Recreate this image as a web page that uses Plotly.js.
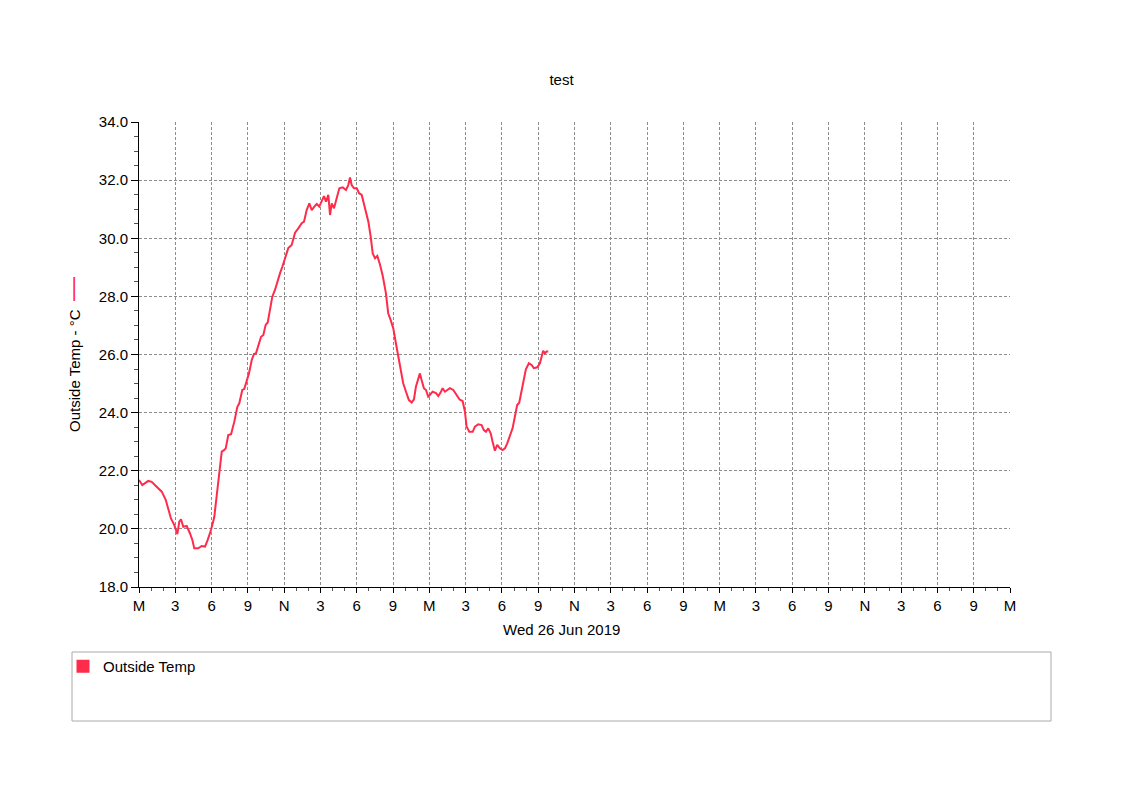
<!DOCTYPE html>
<html>
<head>
<meta charset="utf-8">
<script src="https://cdn.plot.ly/plotly-3.0.1.min.js"></script>
<style>
  html, body { margin: 0; padding: 0; background: #ffffff; }
  #chart { width: 1123px; height: 794px; }
</style>
</head>
<body>
<div id="chart"></div>
<script>
// Hours since midnight Wed 26 Jun 2019
const hours = [
  0.00, 0.27, 0.77, 1.05, 1.46, 1.88, 2.21, 2.42, 2.64, 2.92,
  3.17, 3.33, 3.47, 3.66, 3.94, 4.21, 4.41, 4.57, 4.90, 5.18,
  5.46, 5.68, 5.95, 6.22, 6.42, 6.60, 6.84, 7.03, 7.17, 7.38,
  7.61, 7.88, 8.13, 8.29, 8.54, 8.70, 8.90, 9.09, 9.32, 9.51,
  9.67, 9.86, 10.09, 10.28, 10.47, 10.64, 10.83, 11.02, 11.24, 11.43,
  11.66, 11.85, 12.07, 12.34, 12.62, 12.90, 13.17, 13.45, 13.64, 13.86,
  14.08, 14.28, 14.49, 14.69, 14.90, 15.10, 15.29, 15.46, 15.65, 15.79,
  15.93, 16.12, 16.34, 16.56, 16.84, 17.11, 17.30, 17.44, 17.58, 17.77,
  18.00, 18.19, 18.41, 18.68, 18.96, 19.15, 19.32, 19.51, 19.70, 19.92,
  20.15, 20.41, 20.60, 20.80, 21.02, 21.24, 21.43, 21.63, 21.84, 22.07,
  22.31, 22.54, 22.73, 22.89, 23.08, 23.22, 23.36, 23.55, 23.72, 23.91,
  24.05, 24.27, 24.55, 24.74, 24.93, 25.10, 25.29, 25.48, 25.70, 25.98,
  26.26, 26.50, 26.75, 26.94, 27.08, 27.30, 27.58, 27.77, 28.04, 28.32,
  28.51, 28.68, 28.87, 29.07, 29.23, 29.42, 29.61, 29.83, 30.06, 30.25,
  30.44, 30.66, 30.88, 31.07, 31.26, 31.43, 31.63, 31.82, 31.98, 32.23,
  32.45, 32.64, 32.92, 33.14, 33.28, 33.41, 33.55, 33.69, 33.83
];

// Outside temperature, degrees C
const outsideTemp = [
  21.68, 21.51, 21.65, 21.62, 21.45, 21.28, 21.00, 20.65, 20.36, 20.13,
  19.82, 20.25, 20.33, 20.07, 20.10, 19.85, 19.62, 19.33, 19.33, 19.41,
  19.39, 19.62, 19.96, 20.40, 21.10, 21.90, 22.66, 22.71, 22.77, 23.23,
  23.26, 23.69, 24.20, 24.32, 24.78, 24.81, 25.12, 25.35, 25.81, 26.02,
  26.04, 26.33, 26.61, 26.67, 27.02, 27.10, 27.53, 27.99, 28.22, 28.51,
  28.80, 29.02, 29.31, 29.66, 29.77, 30.19, 30.34, 30.52, 30.57, 30.97,
  31.20, 30.97, 31.09, 31.18, 31.09, 31.26, 31.45, 31.26, 31.49, 30.80,
  31.20, 31.03, 31.43, 31.72, 31.75, 31.66, 31.83, 32.09, 31.83, 31.72,
  31.72, 31.55, 31.49, 31.03, 30.57, 30.06, 29.48, 29.31, 29.39, 29.10,
  28.70, 28.11, 27.42, 27.19, 26.90, 26.38, 25.93, 25.47, 25.01, 24.72,
  24.43, 24.35, 24.46, 24.89, 25.18, 25.35, 25.12, 24.84, 24.78, 24.55,
  24.61, 24.72, 24.67, 24.57, 24.69, 24.84, 24.72, 24.78, 24.84, 24.78,
  24.61, 24.45, 24.40, 24.04, 23.52, 23.34, 23.34, 23.52, 23.60, 23.57,
  23.40, 23.34, 23.46, 23.29, 23.00, 22.69, 22.89, 22.77, 22.71, 22.77,
  22.94, 23.17, 23.46, 23.86, 24.26, 24.34, 24.78, 25.24, 25.49, 25.70,
  25.64, 25.53, 25.56, 25.70, 25.98, 26.13, 26.04, 26.10, 26.10
];

const tickHours = [0, 3, 6, 9, 12, 15, 18, 21, 24, 27, 30, 33, 36, 39, 42, 45, 48, 51, 54, 57, 60, 63, 66, 69, 72];
const tickLabels = ['M', '3', '6', '9', 'N', '3', '6', '9', 'M', '3', '6', '9', 'N', '3', '6', '9', 'M', '3', '6', '9', 'N', '3', '6', '9', 'M'];

const lineColor = '#ff2b4b';
const font = { family: '"Liberation Sans", Arial, sans-serif', size: 15, color: '#000000' };

const traces = [
  {
    type: 'scatter',
    mode: 'lines',
    x: hours,
    y: outsideTemp,
    line: { color: lineColor, width: 2 },
    showlegend: false,
    hoverinfo: 'x+y'
  },
  {
    // legend swatch only
    type: 'scatter',
    mode: 'markers',
    x: [null],
    y: [null],
    name: 'Outside Temp',
    marker: { symbol: 'square', size: 13, color: lineColor },
    showlegend: true
  }
];

const layout = {
  width: 1123,
  height: 794,
  font: font,
  paper_bgcolor: '#ffffff',
  plot_bgcolor: '#ffffff',
  margin: { l: 139, r: 113, t: 122, b: 207 },
  title: {
    text: 'test',
    font: { family: font.family, size: 15, color: '#000000' },
    xref: 'container', x: 0.5, xanchor: 'center',
    yref: 'container', y: 1 - 80 / 794, yanchor: 'middle'
  },
  xaxis: {
    range: [0, 72],
    tickmode: 'array',
    tickvals: tickHours,
    ticktext: tickLabels,
    ticks: 'outside',
    ticklen: 5,
    tickcolor: '#000000',
    showline: true,
    linecolor: '#000000',
    linewidth: 1,
    showgrid: true,
    gridcolor: '#8c8c8c',
    griddash: '3px,2px',
    gridwidth: 1,
    zeroline: false,
    minor: { dtick: 1, ticks: 'outside', ticklen: 3, tickcolor: '#555555', showgrid: false },
    fixedrange: true
  },
  yaxis: {
    range: [18, 34],
    dtick: 2,
    tickformat: '.1f',
    ticks: 'outside',
    ticklen: 7,
    tickcolor: '#000000',
    showline: true,
    linecolor: '#000000',
    linewidth: 1,
    showgrid: true,
    gridcolor: '#8c8c8c',
    griddash: '3px,2px',
    gridwidth: 1,
    zeroline: false,
    minor: { dtick: 0.5, ticks: 'outside', ticklen: 4, tickcolor: '#555555', showgrid: false },
    title: {
      text: 'Outside Temp - °C  <span style="color:' + lineColor + ';font-size:24px">—</span>',
      font: { family: font.family, size: 15, color: '#000000' },
      standoff: 14
    },
    fixedrange: true
  },
  annotations: [
    {
      text: 'Wed 26 Jun 2019',
      xref: 'paper', yref: 'paper',
      x: (561.5 - 139) / 871, y: -(629 - 587) / 465,
      xanchor: 'center', yanchor: 'middle',
      showarrow: false,
      font: { family: font.family, size: 15, color: '#000000' }
    }
  ],
  shapes: [
    {
      // legend frame
      type: 'rect',
      xref: 'paper', yref: 'paper',
      x0: (72 - 139) / 871, x1: (1051 - 139) / 871,
      y0: -(721 - 587) / 465, y1: -(652 - 587) / 465,
      line: { color: '#aaaaaa', width: 1 },
      fillcolor: 'rgba(0,0,0,0)'
    }
  ],
  showlegend: true,
  legend: {
    x: (63 - 139) / 871,
    y: -(650 - 587) / 465,
    xanchor: 'left',
    yanchor: 'top',
    bgcolor: 'rgba(0,0,0,0)',
    borderwidth: 0,
    font: { family: font.family, size: 15, color: '#000000' },
    itemclick: false,
    itemdoubleclick: false
  }
};

Plotly.newPlot('chart', traces, layout, { displayModeBar: false, staticPlot: true });
</script>
</body>
</html>
